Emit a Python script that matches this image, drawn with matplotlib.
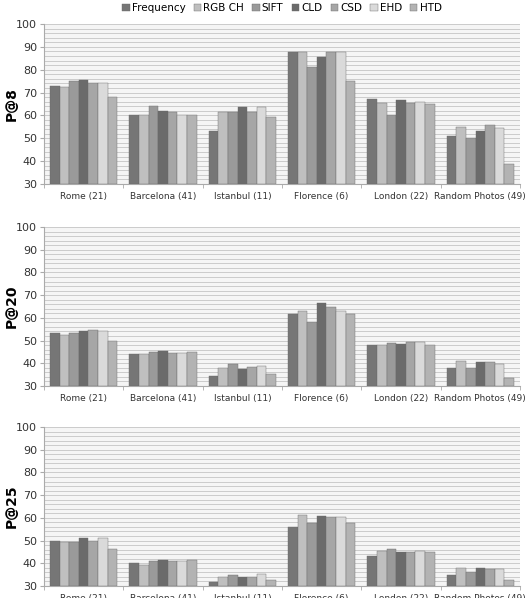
import numpy as np
import matplotlib
matplotlib.use("Agg")
import matplotlib.pyplot as plt
from matplotlib.ticker import MultipleLocator

categories = ["Rome (21)", "Barcelona (41)", "Istanbul (11)", "Florence (6)",
              "London (22)", "Random Photos (49)"]
methods = ["Frequency", "RGB CH", "SIFT", "CLD", "CSD", "EHD", "HTD"]
colors = ["#767676", "#bfbfbf", "#9a9a9a", "#6b6b6b", "#a6a6a6", "#dadada", "#b3b3b3"]

# rows = methods, cols = categories
p8 = [
    [72.9, 60.2, 53.3, 87.7, 67.0, 50.9],   # Frequency
    [72.4, 60.2, 61.3, 87.7, 65.3, 55.0],   # RGB CH
    [75.2, 64.1, 61.3, 81.1, 60.2, 50.2],   # SIFT
    [75.3, 61.8, 63.5, 85.5, 66.6, 53.1],   # CLD
    [74.4, 61.3, 61.3, 87.7, 65.3, 55.9],   # CSD
    [74.4, 60.2, 63.5, 87.7, 65.9, 54.6],   # EHD
    [68.2, 60.2, 59.1, 75.1, 64.8, 38.9],   # HTD
]
p20 = [
    [53.5, 44.0, 34.4, 61.7, 48.2, 37.9],
    [52.6, 44.0, 37.9, 63.2, 48.1, 41.0],
    [53.5, 45.0, 39.5, 58.0, 48.9, 38.1],
    [54.2, 45.4, 37.6, 66.4, 48.6, 40.4],
    [54.8, 44.5, 38.5, 64.9, 49.5, 40.4],
    [54.2, 44.5, 39.0, 63.2, 49.5, 39.8],
    [50.0, 45.0, 35.3, 61.7, 48.1, 33.7],
]
p25 = [
    [50.0, 40.3, 31.9, 56.0, 43.2, 35.0],
    [49.4, 39.3, 33.8, 61.1, 45.6, 37.9],
    [49.4, 41.0, 34.8, 57.9, 46.2, 36.3],
    [51.3, 41.5, 33.8, 60.7, 45.1, 37.9],
    [50.0, 41.0, 33.8, 60.2, 45.1, 37.5],
    [51.3, 41.0, 35.3, 60.2, 45.6, 37.5],
    [46.2, 41.5, 32.6, 57.9, 45.1, 32.6],
]
panels = [("P@8", p8), ("P@20", p20), ("P@25", p25)]

W, H = 526, 598
fig = plt.figure(figsize=(W / 100, H / 100), dpi=100)

# panel boxes in pixels: (top, bottom)
boxes = [(24, 184), (227, 386), (427, 586)]
left, right = 44, 520

x = np.arange(len(categories))
bw = 0.85 / len(methods)

for (name, data), (top, bot) in zip(panels, boxes):
    ax = fig.add_axes([left / W, 1 - bot / H, (right - left) / W, (bot - top) / H])
    ax.set_facecolor("#f5f5f5")
    for i, m in enumerate(methods):
        vals = np.array(data[i])
        ax.bar(x - 0.425 + bw * (i + 0.5), vals - 30, bw, bottom=30,
               color=colors[i], edgecolor="#6a6a6a", linewidth=0.3,
               label=m, zorder=3)
    ax.set_ylim(30, 100)
    ax.set_xlim(-0.5, len(categories) - 0.5)
    ax.yaxis.set_major_locator(MultipleLocator(10))
    ax.yaxis.set_minor_locator(MultipleLocator(2))
    ax.grid(axis="y", which="both", color="#c4c4c4", linewidth=0.6, zorder=0)
    ax.set_xticks(x)
    ax.set_xticklabels(categories, fontsize=6.5, color="#333333")
    ax.set_xticks(np.arange(len(categories) + 1) - 0.5, minor=True)
    ax.tick_params(axis="x", which="major", length=0, pad=6)
    ax.tick_params(axis="x", which="minor", length=3, color="#aaaaaa")
    ax.tick_params(axis="y", which="major", labelsize=8, length=3,
                   color="#aaaaaa", labelcolor="#333333", pad=2)
    ax.tick_params(axis="y", which="minor", length=0)
    for s in ["top", "right"]:
        ax.spines[s].set_visible(False)
    for s in ["left", "bottom"]:
        ax.spines[s].set_color("#aaaaaa")
        ax.spines[s].set_linewidth(0.8)
    ax.set_ylabel(name, fontsize=10, fontweight="bold")
    ax.yaxis.set_label_coords(-0.052, 0.5)
    if name == "P@8":
        ax.legend(loc="upper center", bbox_to_anchor=(0.5, 1.155), ncol=7,
                  frameon=False, fontsize=7.5, handlelength=0.7,
                  handleheight=0.7, handletextpad=0.2, columnspacing=0.8,
                  borderaxespad=0)

fig.savefig("out.png", dpi=100)
